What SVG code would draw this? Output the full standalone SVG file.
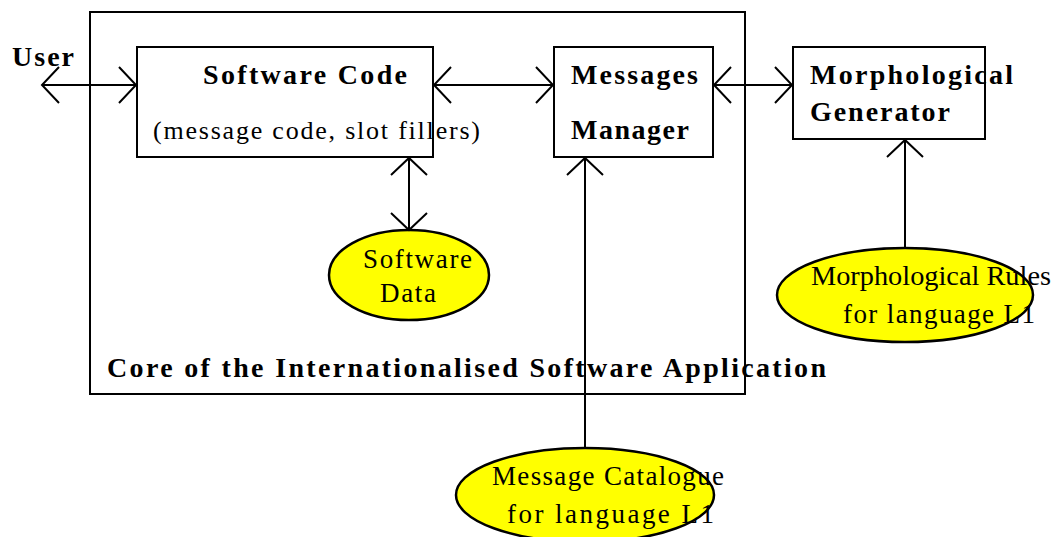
<svg xmlns="http://www.w3.org/2000/svg" width="1055" height="537" viewBox="0 0 1055 537">
  <style>
    .box { fill: #fff; stroke: #000; stroke-width: 2; }
    .frame { fill: none; stroke: #000; stroke-width: 2; }
    .store { fill: #ffff00; stroke: #000; stroke-width: 2.5; }
    .b { font-family: "Liberation Serif", "Times New Roman", serif; font-weight: bold; font-size: 28px; fill: #000; }
    .r { font-family: "Liberation Serif", "Times New Roman", serif; font-size: 26px; fill: #000; }
    .e { font-family: "Liberation Serif", "Times New Roman", serif; font-size: 27px; fill: #000; }
    .link { fill: none; stroke: #000; stroke-width: 2; }
  </style>
  <defs>
    <!-- open "V" arrowhead, tip at the line end -->
    <marker id="open" viewBox="-19 -20 21 40" refX="0" refY="0" markerWidth="21" markerHeight="40" markerUnits="userSpaceOnUse" orient="auto-start-reverse">
      <path d="M-17,-18 L0,0 L-17,18" fill="none" stroke="#000" stroke-width="2"/>
    </marker>
  </defs>
  <rect width="1055" height="537" fill="#fff"/>

  <!-- application core frame -->
  <g id="core">
    <rect class="frame" x="90" y="12" width="655" height="382"/>
    <text class="b" x="107" y="377" textLength="719" lengthAdjust="spacing">Core of the Internationalised Software Application</text>
  </g>

  <g id="user">
    <text class="b" x="12" y="66" textLength="62" lengthAdjust="spacing">User</text>
  </g>

  <g id="software-code">
    <rect class="box" x="137" y="47" width="296" height="110"/>
    <text class="b" x="203" y="84" textLength="204" lengthAdjust="spacing">Software Code</text>
    <text class="r" x="153" y="139" textLength="327" lengthAdjust="spacing">(message code, slot fillers)</text>
  </g>

  <g id="messages-manager">
    <rect class="box" x="554" y="47" width="159" height="110"/>
    <text class="b" x="571" y="84" textLength="127" lengthAdjust="spacing">Messages</text>
    <text class="b" x="571" y="139" textLength="118" lengthAdjust="spacing">Manager</text>
  </g>

  <g id="morph-generator">
    <rect class="box" x="793" y="47" width="192" height="92"/>
    <text class="b" x="810" y="84" textLength="203" lengthAdjust="spacing">Morphological</text>
    <text class="b" x="810" y="121" textLength="140" lengthAdjust="spacing">Generator</text>
  </g>

  <g id="software-data">
    <ellipse class="store" cx="409" cy="275" rx="80" ry="45"/>
    <text class="e" x="363" y="268" textLength="109" lengthAdjust="spacing">Software</text>
    <text class="e" x="380" y="302" textLength="56" lengthAdjust="spacing">Data</text>
  </g>

  <g id="morph-rules">
    <ellipse class="store" cx="905" cy="295" rx="128" ry="47"/>
    <text class="e" x="811" y="285" textLength="240" lengthAdjust="spacingAndGlyphs">Morphological Rules</text>
    <text class="e" x="843" y="323" textLength="192" lengthAdjust="spacing">for language L1</text>
  </g>

  <g id="message-catalogue">
    <ellipse class="store" cx="585" cy="495" rx="129" ry="47"/>
    <text class="e" x="492" y="485" textLength="232" lengthAdjust="spacing">Message Catalogue</text>
    <text class="e" x="507" y="523" textLength="207" lengthAdjust="spacing">for language L1</text>
  </g>

  <g id="connectors">
    <line class="link" x1="42" y1="85" x2="136" y2="85" marker-start="url(#open)" marker-end="url(#open)"/>
    <line class="link" x1="434" y1="85" x2="553" y2="85" marker-start="url(#open)" marker-end="url(#open)"/>
    <line class="link" x1="714" y1="85" x2="792" y2="85" marker-start="url(#open)" marker-end="url(#open)"/>
    <line class="link" x1="409" y1="158" x2="409" y2="230" marker-start="url(#open)" marker-end="url(#open)"/>
    <line class="link" x1="585" y1="448" x2="585" y2="158" marker-end="url(#open)"/>
    <line class="link" x1="905" y1="248" x2="905" y2="140" marker-end="url(#open)"/>
  </g>
</svg>
